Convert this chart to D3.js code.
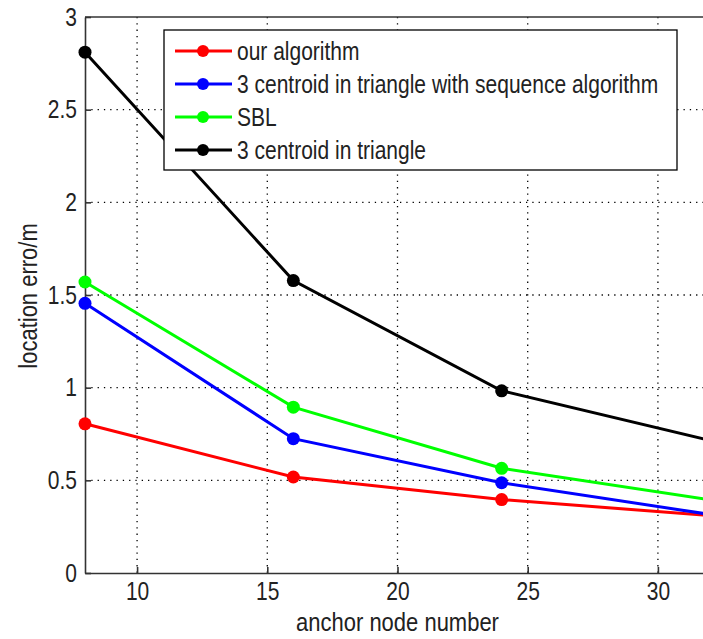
<!DOCTYPE html>
<html>
<head>
<meta charset="utf-8">
<script src="https://cdn.jsdelivr.net/npm/d3@7"></script>
<style>
  body { margin: 0; background: #fff; }
  text { font-family: "Liberation Sans", Arial, sans-serif; fill: #222; }
</style>
</head>
<body>
<div id="chart"></div>
<script>
var svgWidth = 703;
var svgHeight = 639;

// plot box (right edge runs past the window, like the reference)
var margin = { top: 17, left: 85 };
var width = 625;
var height = 556;

// data
var anchorNumbers = [8, 16, 24, 32];
var seriesNames = ["our algorithm", "3 centroid in triangle with sequence algorithm", "SBL", "3 centroid in triangle"];
var seriesColors = ["#ff0000", "#0000ff", "#00ff00", "#000000"];
var ourAlgorithm = [0.805, 0.518, 0.396, 0.31];
var centroidSequence = [1.455, 0.725, 0.487, 0.316];
var sbl = [1.57, 0.895, 0.565, 0.395];
var centroidTriangle = [2.81, 1.578, 0.983, 0.715];
var xTicks = [10, 15, 20, 25, 30];
var yTicks = [0, 0.5, 1, 1.5, 2, 2.5, 3];

var allSeries = [ourAlgorithm, centroidSequence, sbl, centroidTriangle];

var svg = d3.select("#chart")
  .append("svg")
  .attr("width", svgWidth)
  .attr("height", svgHeight);

var chartGroup = svg.append("g")
  .attr("transform", `translate(${margin.left}, ${margin.top})`);

var xScale = d3.scaleLinear().domain([8, 32]).range([0, width]);
var yScale = d3.scaleLinear().domain([0, 3]).range([height, 0]);

// dotted grid
chartGroup.selectAll(".vgrid")
  .data(xTicks)
  .enter()
  .append("line")
  .attr("x1", d => xScale(d)).attr("x2", d => xScale(d))
  .attr("y1", 0).attr("y2", height)
  .attr("stroke", "#000")
  .attr("stroke-width", 1.3)
  .attr("stroke-dasharray", "1.3,5");

chartGroup.selectAll(".hgrid")
  .data(yTicks.slice(1, -1))
  .enter()
  .append("line")
  .attr("x1", 0).attr("x2", width)
  .attr("y1", d => yScale(d)).attr("y2", d => yScale(d))
  .attr("stroke", "#000")
  .attr("stroke-width", 1.3)
  .attr("stroke-dasharray", "1.3,5");

// axes, ticks pointing inward
var bottomAxis = d3.axisBottom(xScale).tickValues(xTicks).tickSizeInner(-6).tickSizeOuter(0).tickPadding(9);
var leftAxis = d3.axisLeft(yScale).tickValues(yTicks).tickFormat(d3.format("")).tickSizeInner(-6).tickSizeOuter(0).tickPadding(8);

var xAxis = chartGroup.append("g")
  .attr("transform", `translate(0, ${height})`)
  .call(bottomAxis);
var yAxis = chartGroup.append("g").call(leftAxis);

[xAxis, yAxis].forEach(function (ax) {
  ax.select(".domain").attr("stroke", "#333").attr("stroke-width", 1.6);
  ax.selectAll(".tick line").attr("stroke", "#333").attr("stroke-width", 1.6);
  ax.selectAll("text").style("font-size", "21px").attr("fill", "#222");
});

// taller glyphs, as in the reference font
xAxis.selectAll(".tick text")
  .attr("y", 0)
  .attr("transform", "translate(0, 9) scale(1, 1.2)");
yAxis.selectAll(".tick text")
  .attr("transform", "scale(1, 1.2)");

// top border
chartGroup.append("line")
  .attr("x1", 0).attr("x2", width)
  .attr("y1", 0).attr("y2", 0)
  .attr("stroke", "#333").attr("stroke-width", 1.6);

// series lines and markers
var line = d3.line()
  .x((d, i) => xScale(anchorNumbers[i]))
  .y(d => yScale(d));

allSeries.forEach(function (values, k) {
  chartGroup.append("path")
    .datum(values)
    .attr("d", line)
    .attr("fill", "none")
    .attr("stroke", seriesColors[k])
    .attr("stroke-width", 3);

  chartGroup.selectAll(".pt" + k)
    .data(values)
    .enter()
    .append("circle")
    .attr("cx", (d, i) => xScale(anchorNumbers[i]))
    .attr("cy", d => yScale(d))
    .attr("r", 6.5)
    .attr("fill", seriesColors[k]);
});

// axis titles
svg.append("text")
  .attr("transform", `translate(${margin.left + xScale(20)}, 631) scale(1, 1.15)`)
  .attr("text-anchor", "middle")
  .style("font-size", "22px")
  .text("anchor node number");

svg.append("text")
  .attr("transform", "translate(37, 296) rotate(-90) scale(1, 1.15)")
  .attr("text-anchor", "middle")
  .style("font-size", "22px")
  .text("location erro/m");

// legend
var legend = svg.append("g").attr("transform", "translate(164, 30)");
legend.append("rect")
  .attr("width", 513)
  .attr("height", 140)
  .attr("fill", "#fff")
  .attr("stroke", "#000")
  .attr("stroke-width", 1.3);

seriesNames.forEach(function (name, k) {
  var y = 21 + k * 33;
  legend.append("line")
    .attr("x1", 11).attr("x2", 68)
    .attr("y1", y).attr("y2", y)
    .attr("stroke", seriesColors[k])
    .attr("stroke-width", 3);
  legend.append("circle")
    .attr("cx", 39).attr("cy", y)
    .attr("r", 6)
    .attr("fill", seriesColors[k]);
  legend.append("text")
    .attr("transform", `translate(73, ${y}) scale(1, 1.2)`)
    .attr("dy", "0.36em")
    .style("font-size", "21px")
    .text(name);
});
</script>
</body>
</html>
